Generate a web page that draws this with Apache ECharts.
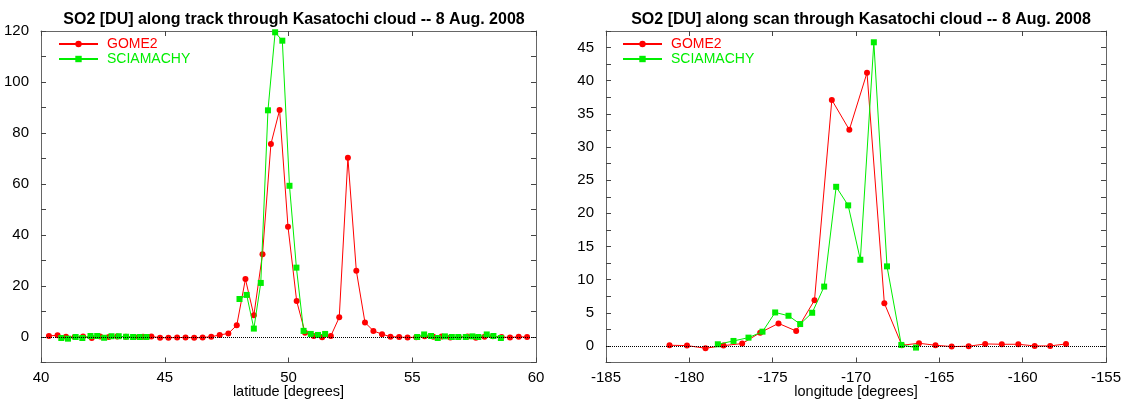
<!DOCTYPE html>
<html>
<head>
<meta charset="utf-8">
<script src="https://cdn.jsdelivr.net/npm/echarts@6/dist/echarts.min.js"></script>
<style>
  html, body { margin: 0; padding: 0; background: #fff; }
  #chart-container { width: 1127px; height: 401px; }
</style>
</head>
<body>
<div id="chart-container"></div>
<script>
// along track (latitude)
var gomeLatTrack = [40.32, 40.67, 41.01, 41.36, 41.70, 42.05, 42.39, 42.74, 43.08, 43.43,
  43.77, 44.12, 44.46, 44.81, 45.15, 45.50, 45.84, 46.19, 46.53, 46.88,
  47.22, 47.57, 47.91, 48.26, 48.60, 48.95, 49.29, 49.64, 49.98, 50.33,
  50.67, 51.02, 51.36, 51.71, 52.05, 52.40, 52.74, 53.09, 53.43, 53.78,
  54.12, 54.47, 54.81, 55.16, 55.50, 55.85, 56.19, 56.54, 56.88, 57.23,
  57.57, 57.92, 58.26, 58.61, 58.95, 59.30, 59.64];
var gomeValTrack = [0.4, 0.7, 0.1, 0.0, 0.2, -0.4, 0.2, 0.0, 0.2, 0.1,
  0.0, 0.1, 0.2, -0.3, -0.3, -0.2, -0.2, -0.3, -0.2, 0.1,
  0.8, 1.4, 4.6, 22.7, 8.5, 32.5, 75.7, 89.0, 43.2, 14.1,
  1.7, 0.4, -0.1, 0.4, 7.7, 70.3, 26.0, 5.7, 2.4, 1.1,
  0.1, 0.0, -0.2, -0.1, 0.3, 0.1, 0.2, -0.2, 0.0, 0.2,
  -0.3, 0.1, 0.3, 0.0, -0.2, 0.1, 0.0];
var sciaLatTrack = [40.82, 41.09, 41.40, 41.67, 42.00, 42.27, 42.55, 42.85, 43.14, 43.44,
  43.72, 43.99, 44.26, null,
  48.02, 48.31, 48.60, 48.88, 49.17, 49.46, 49.75, 50.04, 50.32, 50.61,
  50.90, 51.19, 51.48, null,
  55.20, 55.48, 55.76, 56.03, 56.32, 56.60, 56.86, 57.16, 57.43, 57.67,
  58.01, 58.28, 58.58];
var sciaValTrack = [-0.4, -0.65, 0.0, -0.4, 0.4, 0.4, -0.3, 0.3, 0.3, 0.1,
  0.0, 0.0, 0.0, null,
  14.9, 16.5, 3.3, 21.2, 88.9, 119.5, 116.2, 59.3, 27.2, 2.4,
  1.2, 0.8, 1.2, null,
  0.0, 1.0, 0.4, -0.4, 0.25, 0.0, 0.0, 0.0, 0.25, 0.0,
  1.0, 0.4, -0.4];

// along scan (longitude)
var gomeLonScan = [-181.19, -180.14, -179.03, -177.95, -176.83, -175.75, -174.65, -173.59,
  -172.49, -171.45, -170.40, -169.34, -168.30, -167.25, -166.22, -165.23,
  -164.26, -163.24, -162.25, -161.25, -160.26, -159.28, -158.35, -157.40];
var gomeValScan = [0.1, 0.05, -0.35, 0.05, 0.35, 2.0, 3.4, 2.25,
  6.9, 37.1, 32.6, 41.2, 6.45, 0.1, 0.4, 0.1,
  -0.1, -0.05, 0.3, 0.25, 0.25, 0.0, 0.0, 0.3];
var sciaLonScan = [-178.29, -177.35, -176.45, -175.61, -174.85, -174.05, -173.35, -172.63,
  -171.91, -171.19, -170.47, -169.74, -168.93, -168.14, -167.28, -166.40];
var sciaValScan = [0.25, 0.75, 1.25, 2.15, 5.05, 4.55, 3.3, 5.0,
  8.95, 24.0, 21.2, 13.0, 45.8, 12.0, 0.15, -0.25];

var seriesNames = ["GOME2", "SCIAMACHY"];
var titles = [
  "SO2 [DU] along track through Kasatochi cloud -- 8 Aug. 2008",
  "SO2 [DU] along scan through Kasatochi cloud -- 8 Aug. 2008",
];
var axisNames = ["latitude [degrees]", "longitude [degrees]"];

var FONT = "Liberation Sans, Arial, Helvetica, sans-serif";
var RED = "#ff0000";
var GREEN = "#00ee00";

function pairs(xs, ys) {
  return xs.map(function (x, i) {
    if (x == null || ys[i] == null) return ["-", "-"];
    return [x, ys[i]];
  });
}

function axis(kind, grid, pos, min, max, interval, labelStep, name) {
  var a = {
    type: "value",
    gridIndex: grid,
    position: pos,
    min: min,
    max: max,
    interval: interval,
    splitLine: { show: false },
    axisLine: { show: true, onZero: false, lineStyle: { color: "#666", width: 1 } },
    axisTick: { show: true, inside: true, length: 5, lineStyle: { color: "#444" } },
    axisLabel: { show: false },
  };
  if (labelStep) {
    a.axisLabel = {
      show: true,
      color: "#000",
      fontSize: 15,
      fontFamily: FONT,
      margin: kind === "y" ? 12 : 8,
      formatter: function (v) {
        return Math.abs(v % labelStep) < 1e-9 ? String(v) : "";
      },
    };
  }
  if (name) {
    a.name = name;
    a.nameLocation = "middle";
    a.nameGap = 22;
    a.nameMoveOverlap = false;
    a.nameTextStyle = { color: "#000", fontSize: 14.5, fontFamily: FONT };
  }
  return a;
}

function line(name, color, symbol, xi, data, z) {
  return {
    name: name,
    type: "line",
    xAxisIndex: xi,
    yAxisIndex: xi,
    data: data,
    symbol: symbol,
    symbolSize: 6,
    connectNulls: false,
    z: z,
    lineStyle: { color: color, width: 1 },
    itemStyle: { color: color },
  };
}

// dotted line at zero
function zeroLine(xi, data) {
  return {
    type: "line",
    xAxisIndex: xi,
    yAxisIndex: xi,
    data: data,
    symbol: "none",
    lineStyle: { opacity: 0 },
    z: 1,
    silent: true,
    markLine: {
      silent: true,
      symbol: "none",
      label: { show: false },
      lineStyle: { color: "#000", type: "dotted", width: 1 },
      data: [{ yAxis: 0 }],
    },
  };
}

var dom = document.getElementById("chart-container");
var myChart = echarts.init(dom, null, { renderer: "canvas" });

var legendBase = {
  orient: "vertical",
  top: 32,
  itemWidth: 39,
  itemHeight: 8,
  itemGap: 1,
  textStyle: { fontSize: 14, fontFamily: FONT, padding: [0, 0, 0, 4] },
  selectedMode: false,
};

var titleStyle = { fontSize: 16, fontWeight: "bold", color: "#000", fontFamily: FONT };

var option = {
  animation: false,
  backgroundColor: "#fff",
  title: [
    { text: titles[0], left: 289, top: 7, textAlign: "center", textStyle: titleStyle },
    { text: titles[1], left: 856, top: 7, textAlign: "center", textStyle: titleStyle },
  ],
  legend: [
    Object.assign({}, legendBase, {
      left: 53,
      data: [
        { name: seriesNames[0], textStyle: { color: RED } },
        { name: seriesNames[1], textStyle: { color: GREEN } },
      ],
    }),
    Object.assign({}, legendBase, {
      left: 617,
      data: [
        { name: seriesNames[0], textStyle: { color: RED } },
        { name: seriesNames[1], textStyle: { color: GREEN } },
      ],
    }),
  ],
  grid: [
    { left: 41, right: 591, top: 31, bottom: 38.5, outerBoundsMode: "none" },
    { left: 606, right: 21, top: 31, bottom: 38.5, outerBoundsMode: "none" },
  ],
  xAxis: [
    axis("x", 0, "bottom", 40, 60, 5, 5, axisNames[0]),
    axis("x", 0, "top", 40, 60, 5, 0),
    axis("x", 1, "bottom", -185, -155, 5, 5, axisNames[1]),
    axis("x", 1, "top", -185, -155, 5, 0),
  ],
  yAxis: [
    axis("y", 0, "left", -10, 120, 10, 20),
    axis("y", 0, "right", -10, 120, 10, 0),
    axis("y", 1, "left", -2.5, 47.5, 2.5, 5),
    axis("y", 1, "right", -2.5, 47.5, 2.5, 0),
  ],
  series: [
    zeroLine(0, pairs(gomeLatTrack, gomeValTrack)),
    line(seriesNames[0], RED, "circle", 0, pairs(gomeLatTrack, gomeValTrack), 2),
    line(seriesNames[1], GREEN, "rect", 0, pairs(sciaLatTrack, sciaValTrack), 3),
    zeroLine(2, pairs(gomeLonScan, gomeValScan)),
    line(seriesNames[0], RED, "circle", 2, pairs(gomeLonScan, gomeValScan), 2),
    line(seriesNames[1], GREEN, "rect", 2, pairs(sciaLonScan, sciaValScan), 3),
  ],
};

myChart.setOption(option);
window.addEventListener("resize", myChart.resize);
</script>
</body>
</html>
